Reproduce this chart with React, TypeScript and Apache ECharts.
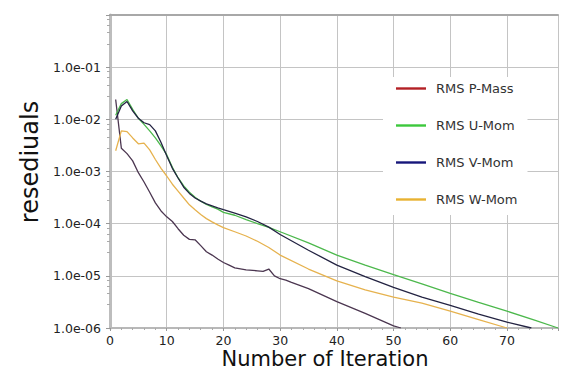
import React, { useEffect, useRef } from "react";
import * as echarts from "echarts";

const seriesNames = ["RMS P-Mass", "RMS U-Mom", "RMS V-Mom", "RMS W-Mom"];
const plotColors = ["#4b3650", "#4cb84c", "#232342", "#e6b24e"];
const legendColors = ["#b32025", "#3cc83c", "#16167a", "#e8b232"];

const pMass: [number, number][] = [
  [1, 2.4e-2], [2, 2.8e-3], [3, 2.2e-3], [4, 1.6e-3], [5, 9.5e-4], [6, 6.3e-4],
  [7, 4.0e-4], [8, 2.5e-4], [9, 1.75e-4], [10, 1.35e-4], [11, 1.1e-4], [12, 8.0e-5],
  [13, 6.0e-5], [14, 5.0e-5], [15, 4.9e-5], [16, 3.8e-5], [17, 2.9e-5], [18, 2.5e-5],
  [19, 2.1e-5], [20, 1.8e-5], [21, 1.6e-5], [22, 1.42e-5], [24, 1.3e-5], [26, 1.25e-5],
  [27, 1.22e-5], [28, 1.35e-5], [29, 1.0e-5], [30, 8.8e-6], [31, 8.3e-6], [32, 7.5e-6],
  [35, 5.7e-6], [40, 3.2e-6], [45, 1.9e-6], [50, 1.1e-6], [51.3, 1.0e-6],
];

const uMom: [number, number][] = [
  [1, 1.2e-2], [2, 2.0e-2], [3, 2.4e-2], [4, 1.55e-2], [5, 1.05e-2], [6, 8.0e-3],
  [7, 6.0e-3], [8, 4.4e-3], [9, 3.1e-3], [10, 2.1e-3], [11, 1.2e-3], [12, 7.6e-4],
  [13, 5.3e-4], [14, 4.0e-4], [15, 3.2e-4], [16, 2.7e-4], [17, 2.35e-4], [18, 2.1e-4],
  [19, 1.9e-4], [20, 1.65e-4], [22, 1.45e-4], [24, 1.2e-4], [26, 1.0e-4], [28, 8.5e-5],
  [30, 7.0e-5], [35, 4.3e-5], [40, 2.5e-5], [45, 1.6e-5], [50, 1.05e-5], [55, 7.0e-6],
  [60, 4.6e-6], [65, 3.1e-6], [70, 2.1e-6], [75, 1.4e-6], [79, 1.0e-6],
];

const vMom: [number, number][] = [
  [1, 1.0e-2], [2, 1.8e-2], [3, 2.2e-2], [4, 1.45e-2], [5, 1.05e-2], [6, 8.6e-3],
  [7, 7.9e-3], [8, 6.0e-3], [9, 3.6e-3], [10, 2.0e-3], [11, 1.15e-3], [12, 7.5e-4],
  [13, 5.0e-4], [14, 3.8e-4], [15, 3.1e-4], [16, 2.7e-4], [17, 2.4e-4], [18, 2.2e-4],
  [19, 2.0e-4], [20, 1.85e-4], [22, 1.6e-4], [24, 1.35e-4], [26, 1.1e-4], [28, 8.6e-5],
  [30, 6.2e-5], [35, 3.1e-5], [40, 1.6e-5], [45, 9.7e-6], [50, 6.0e-6], [55, 3.9e-6],
  [60, 2.7e-6], [65, 1.85e-6], [70, 1.3e-6], [74.3, 1.0e-6],
];

const wMom: [number, number][] = [
  [1, 2.5e-3], [2, 6.0e-3], [3, 5.8e-3], [4, 4.4e-3], [5, 3.4e-3], [6, 3.5e-3],
  [7, 2.6e-3], [8, 1.7e-3], [9, 1.15e-3], [10, 8.2e-4], [11, 5.7e-4], [12, 4.2e-4],
  [13, 3.1e-4], [14, 2.3e-4], [15, 1.85e-4], [16, 1.5e-4], [17, 1.25e-4], [18, 1.08e-4],
  [19, 9.5e-5], [20, 8.4e-5], [22, 7.0e-5], [24, 5.8e-5], [26, 4.6e-5], [28, 3.5e-5],
  [30, 2.5e-5], [35, 1.35e-5], [40, 8.0e-6], [45, 5.4e-6], [50, 3.9e-6], [55, 3.0e-6],
  [60, 2.1e-6], [65, 1.45e-6], [70, 1.0e-6],
];

const seriesData = [pMass, uMom, vMom, wMom];
const xTitle = "Number of Iteration";
const yTitle = "resediuals";

const FONT = "DejaVu Sans";

export default function App() {
  const ref = useRef<HTMLDivElement>(null);
  useEffect(() => {
    if (!ref.current) return;
    const chart = echarts.init(ref.current, null, { renderer: "svg" });
    chart.setOption({
      animation: false,
      backgroundColor: "#ffffff",
      grid: { left: 110, right: 22, top: 15, bottom: 46 },
      xAxis: [
        {
          type: "value",
          min: 0,
          max: 79,
          interval: 10,
          axisLine: { show: true, lineStyle: { color: "#b8b8b8", width: 2 } },
          axisTick: { show: true, length: 3, inside: false, lineStyle: { color: "#999" } },
          minorTick: { show: true, splitNumber: 5, length: 2, lineStyle: { color: "#aaa" } },
          axisLabel: {
            margin: 6,
            color: "#222",
            fontFamily: FONT,
            fontSize: 12.5,
            showMaxLabel: false,
            formatter: (v: number) => (v % 10 === 0 ? String(v) : ""),
          },
          splitLine: { show: true, lineStyle: { color: "#c4c4c4", width: 1 } },
        },
        {
          type: "value",
          position: "top",
          min: 0,
          max: 79,
          axisLine: { show: true, lineStyle: { color: "#a8a8a8", width: 2 } },
          axisTick: { show: false },
          axisLabel: { show: false },
          splitLine: { show: false },
        },
      ],
      yAxis: {
        type: "log",
        logBase: 10,
        min: 1e-6,
        max: 1,
        axisLine: { show: true, lineStyle: { color: "#bdbdbd", width: 3 } },
        axisTick: { show: true, length: 4, lineStyle: { color: "#999" } },
        minorTick: { show: true, splitNumber: 5, length: 3, lineStyle: { color: "#aaa" } },
        axisLabel: {
          margin: 9,
          color: "#222",
          fontFamily: FONT,
          fontSize: 12.5,
          formatter: (v: number) => {
            const e = Math.round(Math.log10(v));
            if (e >= 0) return "";
            return "1.0e-" + String(-e).padStart(2, "0");
          },
        },
        splitLine: { show: true, lineStyle: { color: "#c4c4c4", width: 1 } },
      },
      legend: {
        orient: "vertical",
        left: 383,
        top: 77,
        backgroundColor: "#ffffff",
        padding: [5, 10, 9, 13],
        itemGap: 24,
        itemWidth: 30,
        itemHeight: 12,
        textStyle: { fontFamily: FONT, fontSize: 13, color: "#333", padding: [0, 0, 0, 5] },
        data: seriesNames.map((n, i) => ({
          name: n,
          icon: "path://M0,0 L30,0 L30,2.4 L0,2.4 Z",
          itemStyle: { color: legendColors[i] },
        })),
      },
      graphic: [
        {
          type: "text",
          x: 30,
          y: 162,
          rotation: Math.PI / 2,
          style: {
            text: yTitle,
            font: `24px "${FONT}"`,
            fill: "#111",
            align: "center",
            verticalAlign: "middle",
          },
        },
        {
          type: "text",
          x: 325,
          y: 359,
          style: {
            text: xTitle,
            font: `21px "${FONT}"`,
            fill: "#111",
            align: "center",
            verticalAlign: "middle",
          },
        },
      ],
      series: seriesNames.map((n, i) => ({
        name: n,
        type: "line",
        data: seriesData[i],
        showSymbol: false,
        symbol: "none",
        smooth: false,
        lineStyle: { color: plotColors[i], width: 1.3 },
        itemStyle: { color: plotColors[i] },
      })),
    });
    return () => chart.dispose();
  }, []);
  return <div ref={ref} style={{ width: 580, height: 374, margin: -8 }} />;
}
